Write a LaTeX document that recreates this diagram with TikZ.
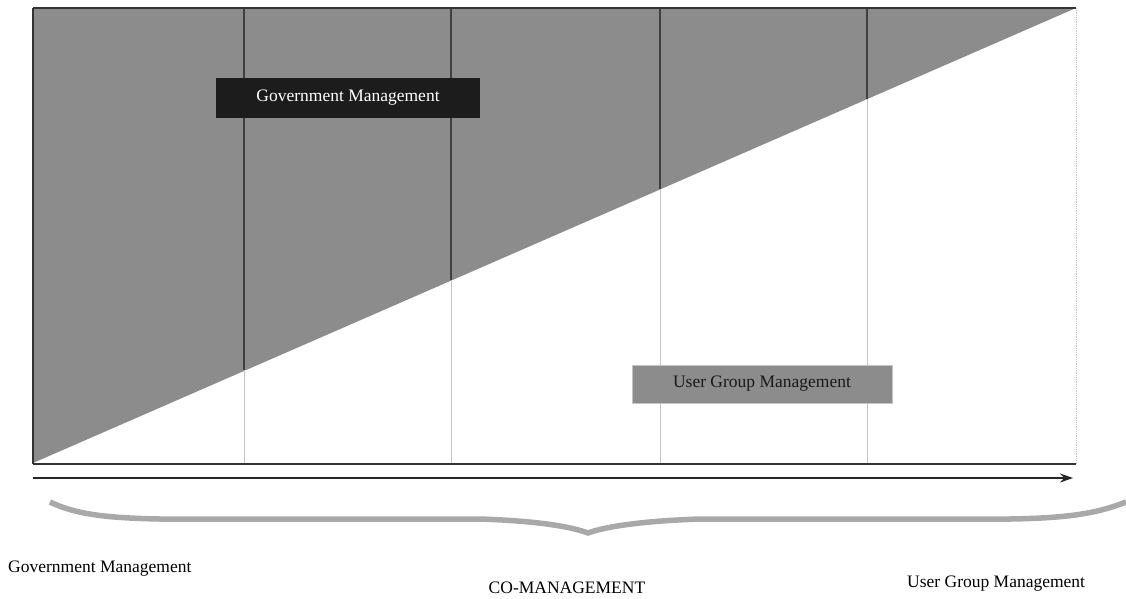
\documentclass[tikz,border=0pt]{standalone}
\usepackage{fontspec}
\setmainfont{Liberation Serif}
\usetikzlibrary{arrows.meta}
\definecolor{areagray}{HTML}{8C8C8C}
\definecolor{darkbox}{HTML}{1C1C1C}
\definecolor{bracegray}{HTML}{A9A9A9}
\definecolor{divlight}{HTML}{C4C4C4}
\tikzset{
  lbl/.style={font=\fontsize{17.5}{20}\selectfont, inner sep=0pt},
  govbox/.style={lbl, fill=darkbox, text=white, minimum width=264pt, minimum height=40pt},
  userbox/.style={lbl, fill=areagray, draw=divlight, line width=0.8pt, text=black!90, minimum width=260pt, minimum height=38pt},
  darkdiv/.style={draw=black!75, line width=1.2pt},
  lightdiv/.style={draw=divlight, line width=0.8pt},
}
\begin{document}
\begin{tikzpicture}[x=1pt, y=-1pt]
  \useasboundingbox (0,0) rectangle (1126,598);
  \fill[white] (0,0) rectangle (1126,598);

  % frame corners
  \coordinate (tl) at (33,8);
  \coordinate (tr) at (1076,8);
  \coordinate (bl) at (33,464);
  \coordinate (br) at (1076,464);

  % share of government management (upper triangle)
  \fill[areagray] (33,8) -- (1076,8) -- (33,463) -- cycle;

  % column dividers: dark above the diagonal, light below it
  \foreach \x/\y in {244/370, 451/280, 660/189, 867/99}{
    \draw[darkdiv] (\x,8) -- (\x,\y);
    \draw[lightdiv] (\x,\y) -- (\x,464);
  }

  % frame
  \draw[lightdiv, densely dotted] (tr) -- (br);
  \draw[black!80, line width=1.5pt] (tl) -- (tr);
  \draw[black!80, line width=1.5pt] (tl) -- (bl);
  \draw[black!80, line width=2pt] (bl) -- (br);

  % time axis
  \coordinate (a0) at (33,478);
  \coordinate (a1) at (1073,478);
  \draw[black!85, line width=1.5pt, -{Stealth[length=13pt, width=9pt]}] (a0) -- (a1);

  % brace under the axis
  \draw[bracegray, line width=5.5pt, line cap=butt]
    (50,502) .. controls (75,514) and (105,518) .. (160,519)
    -- (480,519) .. controls (540,521) and (572,527) .. (588,533)
    .. controls (604,527) and (640,521) .. (700,519)
    -- (1010,519) .. controls (1075,518) and (1100,512) .. (1126,502);

  % boxes
  \node[govbox] (gov) at (348,98) {Government Management};
  \node[userbox] (usr) at (762,384) {User Group Management};

  % labels under the brace
  \node[lbl, anchor=west] (lgov) at (8,569) {Government Management};
  \node[lbl] (lco) at (567,588) {CO-MANAGEMENT};
  \node[lbl, anchor=west] (lusr) at (907,584) {User Group Management};
\end{tikzpicture}
\end{document}
